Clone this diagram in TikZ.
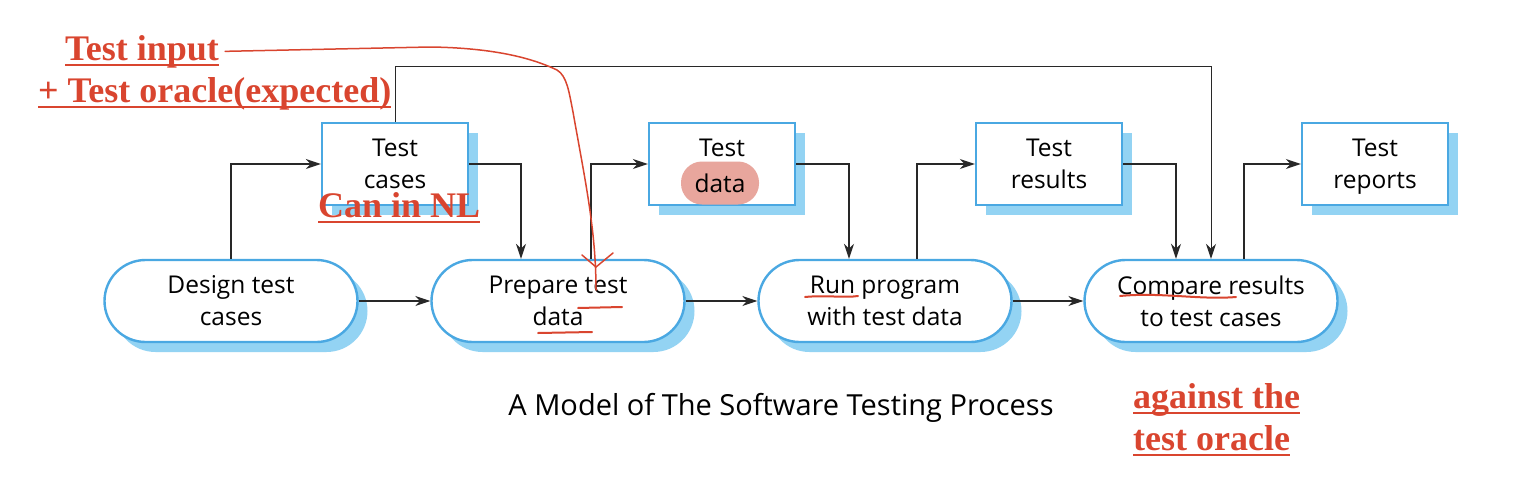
\documentclass[tikz,border=0pt]{standalone}
\usepackage{fontspec}
\setmainfont{Liberation Serif}
\setsansfont{Open Sans}
\usetikzlibrary{shapes.misc,shadows,arrows.meta,positioning}
\definecolor{boxblue}{RGB}{74,168,226}
\definecolor{shadeblue}{RGB}{147,211,243}
\definecolor{annotred}{RGB}{217,69,47}
\definecolor{hilitepink}{RGB}{232,166,157}
\definecolor{linegray}{RGB}{40,40,40}
\tikzset{
  artefact/.style={draw=boxblue, line width=2.4pt, fill=white,
    minimum width=146pt, minimum height=82pt, align=center, text depth=0pt,
    font=\sffamily\fontsize{24.5}{32}\selectfont,
    drop shadow={shadow xshift=10pt, shadow yshift=-10pt, fill=shadeblue, opacity=1}},
  activity/.style={artefact, minimum width=253pt, rounded corners=41pt},
  flow/.style={draw=linegray, line width=1.4pt, -{Stealth[length=15pt,width=10pt]}},
  note/.style={text=annotred, font=\bfseries\fontsize{36}{40}\selectfont, inner sep=0pt},
  noteline/.style={draw=annotred, line width=2.5pt},
  scribble/.style={draw=annotred, line width=2pt, line cap=round},
}
\begin{document}
\begin{tikzpicture}[x=1pt,y=-1pt]
\useasboundingbox (0,0) rectangle (1534,498);
% activities
\node[activity] (design) at (231,301) {Design test\\cases};
\node[activity] (prepare) at (558,301) {Prepare test\\data};
\node[activity] (run) at (885,301) {Run program\\with test data};
\node[activity] (compare) at (1211,301) {Compare results\\to test cases};
% artefacts
\node[artefact] (cases) at (395,164) {Test\\cases};
\node[artefact] (tdata) at (722,164) {Test\\\phantom{data}};
\node[artefact] (results) at (1049,164) {Test\\results};
\node[artefact] (reports) at (1375,164) {Test\\reports};
\node[fill=hilitepink, rounded corners=21pt, minimum width=78pt, minimum height=43pt,
  inner sep=0pt, font=\sffamily\fontsize{24.5}{32}\selectfont] (hilite) at (720,183) {data};
% flows
\draw[flow] (design.east) -- (prepare.west);
\draw[flow] (prepare.east) -- (run.west);
\draw[flow] (run.east) -- (compare.west);
\draw[flow] (design.north) |- (cases.west);
\draw[flow] (cases.east) -| ([xshift=-37]prepare.north);
\draw[flow] ([xshift=33]prepare.north) |- (tdata.west);
\draw[flow] (tdata.east) -| ([xshift=-36]run.north);
\draw[flow] ([xshift=32]run.north) |- (results.west);
\draw[flow] (results.east) -| ([xshift=-35]compare.north);
\draw[flow] ([xshift=33]compare.north) |- (reports.west);
\draw[flow, line width=1pt] (cases.north) -- ++(0,-55) -| (compare.north);
% caption
\node[font=\sffamily\fontsize{29}{34}\selectfont] (caption) at (781,408)
  {A Model of The Software Testing Process};
% handwritten notes
\node[note, anchor=base west] (input) at (65,60) {Test input};
\node[note, anchor=base west] (oracle) at (38,102) {+ Test oracle(expected)};
\node[note, anchor=base west] (nl) at (318,217) {Can in NL};
\node[note, anchor=base west] (against) at (1133,408) {against the};
\node[note, anchor=base west] (testoracle) at (1133,450) {test oracle};
\foreach \n in {input,oracle,nl,against,testoracle}
  \draw[noteline] ([yshift=-5]\n.base west) -- ([yshift=-5]\n.base east);
\draw[scribble, line width=1.5pt] ([xshift=6]input.east) -- (430,47)
  .. controls (505,48) and (540,62) .. (557,70)
  .. controls (567,76) and (569,92) .. (573,112)
  .. controls (585,180) and (596,230) .. (596,290);
\draw[scribble, line width=1.5pt] (582,255) -- (596,267) -- (613,253);
\draw[scribble] (805,297) .. controls (825,295) and (845,298) .. (858,296);
\draw[scribble] (1120,296) .. controls (1160,292) and (1200,300) .. (1236,297);
\draw[scribble] (578,308) -- (622,307);
\draw[scribble] (538,333) -- (592,332);
\end{tikzpicture}
\end{document}
